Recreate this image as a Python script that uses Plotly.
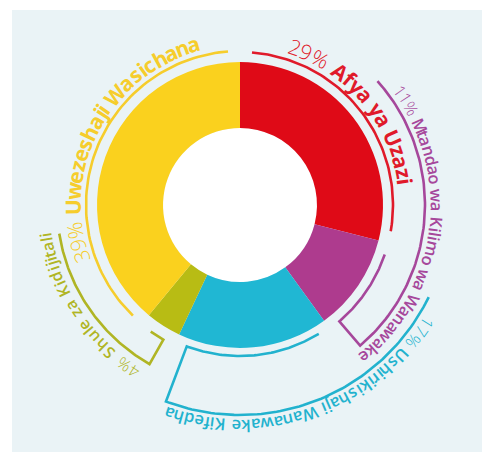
import math

import plotly.graph_objects as go

# ---------------------------------------------------------------------------
# data
# ---------------------------------------------------------------------------
labels = ["Afya ya Uzazi", "Mtandao wa Kilimo wa Wanawake",
          "Ushirikishaji Wanawake Kifedha", "Shule za Kidijitali",
          "Uwezeshaji Wasichana"]
shares = [29, 11, 17, 4, 39]

slice_colors = ["#DF0A17", "#AE3B8E", "#20B7D3", "#B8BC14", "#FAD11E"]
text_colors = ["#E01A2A", "#A6479B", "#22B2CE", "#B0B524", "#F6CD2C"]

# ---------------------------------------------------------------------------
# layout geometry (pixels, angles clockwise from 12 o'clock)
# ---------------------------------------------------------------------------
W, H = 482, 454
CX, CY = 240, 205
R_OUT, R_IN = 143, 77

# per label: inner arc radius, outer bracket radius (None = plain arc),
# far end of outer arc, text radius, text span, font size, label weight
callouts = [
    dict(r_in=153, r_out=None, outer_to=None, r_txt=167, span=(17, 83), size=21, weight=700),
    dict(r_in=153, r_out=185, outer_to=48, r_txt=197, span=(53, 142), size=16.5, weight=600),
    dict(r_in=151, r_out=210, outer_to=116, r_txt=221, span=(121, 200), size=16.5, weight=600),
    dict(r_in=155, r_out=183, outer_to=261, r_txt=197, span=(211, 262), size=16, weight=600),
    dict(r_in=154, r_out=None, outer_to=None, r_txt=167, span=(250, 346), size=21, weight=700),
]
ARC_PAD = 12  # px kept free at each end of an inner arc

REG = {" ": 278, "%": 889, "A": 667, "K": 667, "M": 833, "S": 667, "U": 722, "W": 944,
       "a": 556, "c": 500, "d": 556, "e": 556, "f": 278, "h": 556, "i": 222, "j": 222,
       "k": 500, "l": 222, "m": 833, "n": 556, "o": 556, "r": 333, "s": 500, "t": 278,
       "u": 556, "w": 722, "y": 500, "z": 500}
BOLD = {" ": 278, "%": 889, "A": 722, "K": 722, "M": 833, "S": 667, "U": 722, "W": 944,
        "a": 556, "c": 556, "d": 611, "e": 556, "f": 333, "h": 611, "i": 278, "j": 278,
        "k": 556, "l": 278, "m": 889, "n": 611, "o": 611, "r": 389, "s": 556, "t": 333,
        "u": 611, "w": 778, "y": 556, "z": 500}


def polar(r, deg):
    a = math.radians(deg)
    return CX + r * math.sin(a), CY - r * math.cos(a)


def arc(r, a0, a1, n=80):
    pts = [polar(r, a0 + (a1 - a0) * k / n) for k in range(n + 1)]
    return [p[0] for p in pts], [p[1] for p in pts]


def char_width(c, table):
    return table.get(c, 556)


fig = go.Figure()

fig.add_trace(go.Pie(
    values=shares, labels=labels, sort=False, direction="clockwise", rotation=0,
    hole=R_IN / R_OUT, textinfo="none", showlegend=False,
    marker=dict(colors=slice_colors, line=dict(width=0)),
    domain=dict(x=[(CX - R_OUT) / W, (CX + R_OUT) / W],
                y=[1 - (CY + R_OUT) / H, 1 - (CY - R_OUT) / H]),
))

total = sum(shares)
cum = 0
annotations = []
for i, (lab, val) in enumerate(zip(labels, shares)):
    a_start = 360 * cum / total
    a_end = 360 * (cum + val) / total
    cum += val
    c = callouts[i]
    col = text_colors[i]
    pad = math.degrees(ARC_PAD / c["r_in"])
    i0, i1 = a_start + pad, a_end - pad

    # bracket / arc
    if c["r_out"] is None:
        xs, ys = arc(c["r_in"], i0, i1)
    elif c["outer_to"] < i0:
        # outer arc runs back counter-clockwise from the radial at i1
        x1, y1 = arc(c["r_in"], i0, i1)
        x2, y2 = arc(c["r_out"], i1, c["outer_to"])
        xs, ys = x1 + x2, y1 + y2
    else:
        # radial at i0, outer arc runs on clockwise
        x1, y1 = arc(c["r_in"], i1, i0)
        x2, y2 = arc(c["r_out"], i0, c["outer_to"])
        xs, ys = x1 + x2, y1 + y2
    fig.add_trace(go.Scatter(x=xs, y=ys, mode="lines", hoverinfo="skip", showlegend=False,
                             line=dict(color=col, width=2.6)))

    # curved label, one character at a time
    parts = [(f"{val}% ", 300, REG), (lab, c["weight"], BOLD)]
    chars = [(ch, wt, char_width(ch, tb)) for txt, wt, tb in parts for ch in txt]
    units = sum(w for _, _, w in chars)
    t0, t1 = c["span"]
    run = 0
    for ch, wt, w in chars:
        ang = t0 + (t1 - t0) * (run + w / 2) / units
        run += w
        if ch == " ":
            continue
        x, y = polar(c["r_txt"], ang)
        rot = ang if ang <= 180 else ang - 360
        annotations.append(dict(
            x=x, y=y, xref="x", yref="y", text=ch, showarrow=False,
            xanchor="center", yanchor="middle", textangle=rot,
            font=dict(family="Open Sans, Lato, sans-serif", size=c["size"],
                      color=col, weight=wt),
        ))

fig.update_layout(
    width=W, height=H, margin=dict(l=0, r=0, t=0, b=0),
    paper_bgcolor="white", plot_bgcolor="white",
    xaxis=dict(range=[0, W], visible=False, fixedrange=True),
    yaxis=dict(range=[H, 0], visible=False, fixedrange=True),
    annotations=annotations,
    shapes=[
        dict(type="rect", xref="x", yref="y", x0=12, y0=10, x1=W, y1=452,
             fillcolor="#EAF3F6", line=dict(width=0), layer="below"),
        dict(type="circle", xref="x", yref="y", x0=CX - R_IN, y0=CY - R_IN,
             x1=CX + R_IN, y1=CY + R_IN, fillcolor="white", line=dict(width=0),
             layer="below"),
    ],
)

# the page's default body margin would push the figure 8px down and right
fig.write_html("out.html", config={"displayModeBar": False},
               post_script="document.body.style.margin='0';")
